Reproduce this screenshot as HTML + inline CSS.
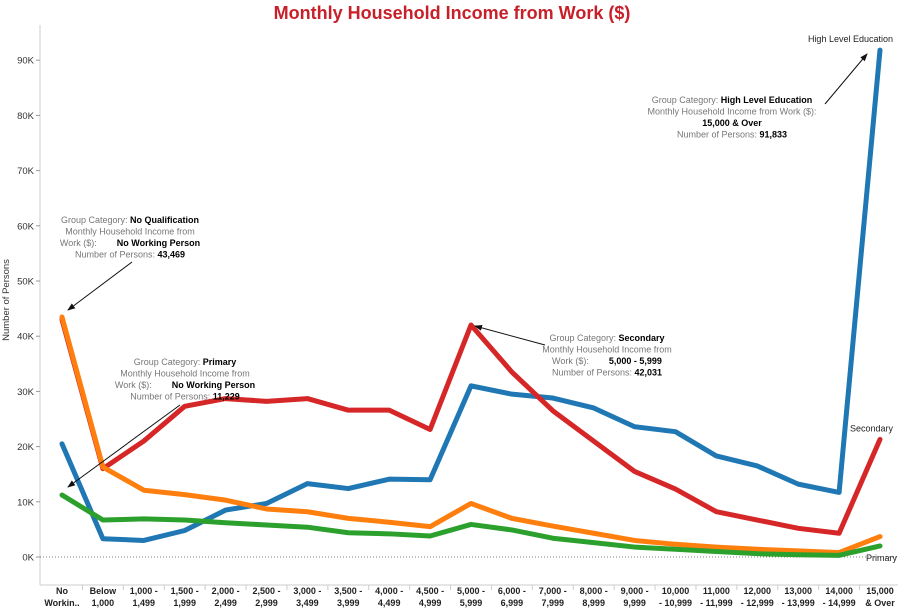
<!DOCTYPE html>
<html><head><meta charset="utf-8"><style>
body{margin:0;background:#fff;width:900px;height:611px;overflow:hidden}
svg{font-family:"Liberation Sans",Arial,sans-serif}
</style></head><body>
<svg id="chart" width="900" height="611">
<text x="452" y="19" text-anchor="middle" font-size="18" font-weight="bold" fill="#c8202a">Monthly Household Income from Work ($)</text>
<text transform="translate(9,300) rotate(-90)" text-anchor="middle" font-size="9.5" fill="#333">Number of Persons</text>
<g id="grid"></g><g id="series"></g><g id="ann"></g>
</svg>
<script>
const categories=[["No","Workin.."],["Below","1,000"],["1,000 -","1,499"],["1,500 -","1,999"],["2,000 -","2,499"],["2,500 -","2,999"],["3,000 -","3,499"],["3,500 -","3,999"],["4,000 -","4,499"],["4,500 -","4,999"],["5,000 -","5,999"],["6,000 -","6,999"],["7,000 -","7,999"],["8,000 -","8,999"],["9,000 -","9,999"],["10,000","- 10,999"],["11,000","- 11,999"],["12,000","- 12,999"],["13,000","- 13,999"],["14,000","- 14,999"],["15,000","& Over"]];
const highEdu=[20500,3300,3000,4800,8500,9700,13300,12400,14100,14000,31000,29500,28800,27000,23600,22700,18300,16500,13200,11700,91833];
const secondary=[43000,16000,21000,27300,28700,28200,28700,26600,26600,23100,42031,33500,26500,21000,15500,12300,8200,6700,5200,4300,21300];
const noQual=[43469,16300,12100,11300,10300,8700,8200,7000,6300,5500,9700,7000,5600,4300,3000,2300,1800,1400,1100,800,3700];
const primary=[11229,6700,6900,6700,6200,5800,5400,4400,4200,3800,5900,4900,3400,2600,1800,1400,1000,600,400,300,2000];
const yTicks=[0,10000,20000,30000,40000,50000,60000,70000,80000,90000];
const yLabels=["0K","10K","20K","30K","40K","50K","60K","70K","80K","90K"];
const NS="http://www.w3.org/2000/svg";
const X=i=>62+i*40.9, Y=v=>557-v/10000*55.2;
function mk(tag,attrs,parent,text){const e=document.createElementNS(NS,tag);for(const k in attrs)e.setAttribute(k,attrs[k]);if(text!==undefined)e.textContent=text;parent.appendChild(e);return e;}
const grid=document.getElementById('grid');
const ya=mk('line',{x1:40,y1:25,x2:40,y2:585,stroke:'#ccc'},grid);


const xa=mk('line',{x1:40,y1:585,x2:898,y2:585,stroke:'#ccc'},grid);


mk('line',{x1:40,y1:Y(0),x2:898,y2:Y(0),stroke:'#555','stroke-dasharray':'1,2','stroke-width':0.8},grid);
yTicks.forEach((t,i)=>{
 mk('line',{x1:36,x2:40,y1:Y(t),y2:Y(t),stroke:'#999'},grid);
 const tx=mk('text',{x:34,y:Y(t)+3.5,'text-anchor':'end','font-size':9.5,fill:'#333'},grid,yLabels[i]);
 
 
});
categories.forEach((c,i)=>{
 mk('line',{x1:X(i)+20.45,x2:X(i)+20.45,y1:585,y2:590,stroke:'#ccc'},grid);
 const tx=mk('text',{x:X(i),y:594,'text-anchor':'middle','font-size':9,'font-weight':'bold',fill:'#222'},grid);
 
 
 mk('tspan',{x:X(i),dy:0},tx,c[0]);mk('tspan',{x:X(i),dy:12},tx,c[1]);
});
const sg=document.getElementById('series');
[[highEdu,'#1f77b4','high-level-education-line'],[secondary,'#d62728','secondary-line'],[noQual,'#ff7f0e','no-qualification-line'],[primary,'#2ca02c','primary-line']].forEach(s=>{
 const p=mk('polyline',{points:s[0].map((v,i)=>X(i)+','+Y(v)).join(' '),fill:'none',stroke:s[1],'stroke-width':5,'stroke-linejoin':'round','stroke-linecap':'round'},sg);
 
 
});
const last=categories.length-1;
const ag=document.getElementById('ann');
[["High Level Education",highEdu,-8],["Secondary",secondary,-8]].forEach(l=>{
 const t=mk('text',{x:X(last)+13,y:Y(l[1][last])+l[2],'text-anchor':'end','font-size':9,fill:'#222'},ag,l[0]);
 
 
});
const pl=mk('text',{x:X(last)+17,y:Y(0)+4,'text-anchor':'end','font-size':9,fill:'#222'},ag,'Primary');


mk('defs',{},ag).innerHTML='<marker id="ah" markerWidth="8" markerHeight="6" refX="7" refY="3" orient="auto"><path d="M0,0L8,3L0,6z" fill="#111"/></marker>';
function ann(cx,y0,lines,ax1,ay1,ax2,ay2,name){
 const g=mk('g',{},ag);
 
 
 lines.forEach((ln,i)=>{const t=mk('text',{x:cx,y:y0+i*11.5,'text-anchor':'middle','font-size':9,fill:'#777'},g);mk('tspan',{},t,ln[0]);mk('tspan',{fill:'#000','font-weight':'bold'},t,ln[1]);});
 mk('line',{x1:ax1,y1:ay1,x2:ax2,y2:ay2,stroke:'#111','stroke-width':1,'marker-end':'url(#ah)'},g);
}
const gap='Work ($):\u00a0\u00a0\u00a0\u00a0\u00a0\u00a0\u00a0\u00a0';
ann(130,223,[["Group Category: ","No Qualification"],["Monthly Household Income from",""],[gap,"No Working Person"],["Number of Persons: ","43,469"]],132,262,68,310,'annotation-no-qualification');
ann(185,365,[["Group Category: ","Primary"],["Monthly Household Income from",""],[gap,"No Working Person"],["Number of Persons: ","11,229"]],180,405,68,487,'annotation-primary');
ann(607,341,[["Group Category: ","Secondary"],["Monthly Household Income from",""],[gap,"5,000 - 5,999"],["Number of Persons: ","42,031"]],545,345,475,326,'annotation-secondary');
ann(732,103,[["Group Category: ","High Level Education"],["Monthly Household Income from Work ($):",""],["","15,000 & Over"],["Number of Persons: ","91,833"]],825,104,867,54,'annotation-high-education');
</script>
</body></html>
